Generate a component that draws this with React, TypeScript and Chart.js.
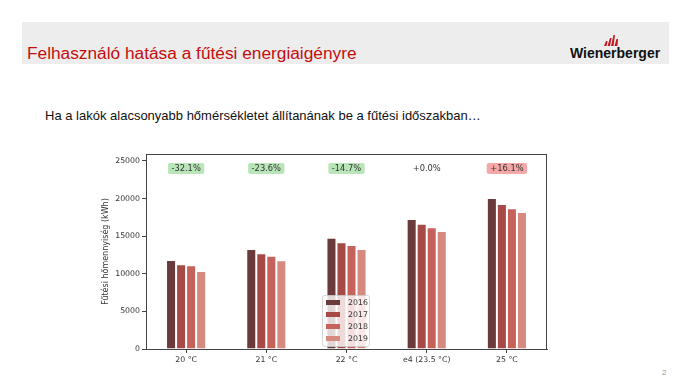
import React, { useEffect, useRef } from "react";
import { Chart, registerables } from "chart.js";

Chart.register(...registerables);

const categories = ["20 °C", "21 °C", "22 °C", "e4 (23.5 °C)", "25 °C"];
const years = ["2016", "2017", "2018", "2019"];
const values2016 = [11850, 13300, 14800, 17300, 20080];
const values2017 = [11260, 12720, 14180, 16670, 19280];
const values2018 = [11130, 12410, 13830, 16180, 18700];
const values2019 = [10370, 11790, 13300, 15690, 18220];
const changeLabels = ["-32.1%", "-23.6%", "-14.7%", "+0.0%", "+16.1%"];
const yTicks = [0, 5000, 10000, 15000, 20000, 25000];
const yMax = 25930;
const labelY = 24000;

const seriesValues = [values2016, values2017, values2018, values2019];
const seriesColors = ["#6b3b3b", "#a54a47", "#c5625c", "#d6897e"];

const FONT = "'DejaVu Sans', sans-serif";

const framePlugin = {
  id: "frame",
  afterDatasetsDraw(chart: any) {
    const { ctx, chartArea } = chart;
    ctx.save();
    ctx.strokeStyle = "#444";
    ctx.lineWidth = 1;
    ctx.strokeRect(
      Math.round(chartArea.left) + 0.5,
      Math.round(chartArea.top) + 0.5,
      Math.round(chartArea.right - chartArea.left) - 1,
      Math.round(chartArea.bottom - chartArea.top)
    );
    ctx.restore();
  },
};

const annotationPlugin = {
  id: "changeLabels",
  afterDatasetsDraw(chart: any) {
    const { ctx } = chart;
    const xs = chart.scales.x;
    const ys = chart.scales.y;
    ctx.save();
    ctx.font = `8.3px ${FONT}`;
    ctx.textAlign = "center";
    ctx.textBaseline = "middle";
    changeLabels.forEach((lab, i) => {
      const x = xs.getPixelForValue(i);
      const y = ys.getPixelForValue(labelY);
      const w = ctx.measureText(lab).width + 7;
      const h = 11;
      const n = parseFloat(lab);
      let bg: string | null = null;
      if (n < 0) bg = "#b9e6b9";
      else if (n > 0) bg = "#f6a8a8";
      if (bg) {
        ctx.fillStyle = bg;
        ctx.beginPath();
        (ctx as any).roundRect(x - w / 2, y - h / 2, w, h, 2);
        ctx.fill();
      }
      ctx.fillStyle = "#333";
      ctx.fillText(lab, x, y + 0.5);
    });
    ctx.restore();
  },
};

const legendPlugin = {
  id: "innerLegend",
  afterDraw(chart: any) {
    const { ctx } = chart;
    const x0 = 322;
    const y0 = 295;
    const w = 47;
    const h = 51;
    ctx.save();
    ctx.fillStyle = "rgba(255,255,255,0.8)";
    ctx.strokeStyle = "rgba(204,204,204,0.8)";
    ctx.lineWidth = 1;
    ctx.beginPath();
    (ctx as any).roundRect(x0 + 0.5, y0 + 0.5, w, h, 2);
    ctx.fill();
    ctx.stroke();
    ctx.font = `7.8px ${FONT}`;
    ctx.textBaseline = "middle";
    ctx.textAlign = "left";
    years.forEach((yr, i) => {
      const cy = y0 + 7.5 + i * 12;
      ctx.fillStyle = seriesColors[i];
      ctx.fillRect(x0 + 4, cy - 2.5, 14, 5);
      ctx.fillStyle = "#333";
      ctx.fillText(yr, x0 + 26, cy + 0.5);
    });
    ctx.restore();
  },
};

function ChartCanvas() {
  const ref = useRef<HTMLCanvasElement | null>(null);
  useEffect(() => {
    if (!ref.current) return;
    const chart = new Chart(ref.current, {
      type: "bar",
      data: {
        labels: categories,
        datasets: years.map((yr, i) => ({
          label: yr,
          data: seriesValues[i],
          backgroundColor: seriesColors[i],
          borderColor: "rgba(255,255,255,0.55)",
          borderWidth: 1,
          categoryPercentage: 0.5,
          barPercentage: 1,
        })),
      },
      options: {
        responsive: false,
        animation: false,
        events: [],
        layout: { padding: { left: 96, right: 143, top: 154, bottom: 0 } },
        plugins: {
          legend: { display: false },
          tooltip: { enabled: false },
        },
        scales: {
          x: {
            type: "category",
            offset: true,
            grid: {
              display: true,
              drawOnChartArea: false,
              drawTicks: true,
              tickLength: 4,
              color: "#444",
              offset: false,
            },
            border: { display: true, color: "#444", width: 1 },
            ticks: {
              font: { family: FONT, size: 7.8 },
              color: "#333",
              padding: 2,
              maxRotation: 0,
              autoSkip: false,
            },
            afterFit: (s: any) => {
              s.height = 39;
            },
          },
          y: {
            min: 0,
            max: yMax,
            grid: {
              display: true,
              drawOnChartArea: false,
              drawTicks: true,
              tickLength: 4,
              color: "#444",
            },
            border: { display: true, color: "#444", width: 1 },
            ticks: {
              font: { family: FONT, size: 7.8 },
              color: "#333",
              padding: 2,
              callback: (v: any) => String(v),
            },
            afterBuildTicks: (s: any) => {
              s.ticks = yTicks.map((v) => ({ value: v }));
            },
            title: {
              display: true,
              text: "Fűtési hőmennyiség (kWh)",
              font: { family: FONT, size: 8 },
              color: "#333",
              padding: { top: 5, bottom: 0 },
            },
            afterFit: (s: any) => {
              s.width = 50;
            },
          },
        },
      },
      plugins: [framePlugin, annotationPlugin, legendPlugin],
    } as any);
    return () => chart.destroy();
  }, []);
  return (
    <canvas
      ref={ref}
      width={690}
      height={388}
      style={{ position: "absolute", left: 0, top: 0, width: 690, height: 388 }}
    />
  );
}

export default function App() {
  return (
    <div
      style={{
        position: "fixed",
        left: 0,
        top: 0,
        width: 690,
        height: 388,
        background: "#fff",
        overflow: "hidden",
        fontFamily: "'Liberation Sans', Arial, sans-serif",
      }}
    >
      <div
        style={{
          position: "absolute",
          left: 22,
          top: 22,
          width: 647,
          height: 42,
          background: "#ededed",
        }}
      />
      <div
        style={{
          position: "absolute",
          left: 27,
          top: 43,
          fontSize: 17.3,
          lineHeight: "20px",
          color: "#c40d0d",
          whiteSpace: "nowrap",
        }}
      >
        Felhasználó hatása a fűtési energiaigényre
      </div>
      <svg
        style={{ position: "absolute", left: 602, top: 33 }}
        width={20}
        height={13}
        viewBox="0 0 20 13"
      >
        <polygon points="2,13 4,8 5.5,8 4.5,13" fill="#c8161d" />
        <polygon points="5.5,13 8,5 9.5,5 8,13" fill="#c8161d" />
        <polygon points="9,13 11.5,2 13,2 11.5,13" fill="#c8161d" />
        <polygon points="12.5,13 14.5,6 16,6 15.5,13" fill="#c8161d" />
      </svg>
      <div
        style={{
          position: "absolute",
          left: 570,
          top: 45,
          fontSize: 14,
          fontWeight: "bold",
          lineHeight: "16px",
          color: "#111",
          whiteSpace: "nowrap",
        }}
      >
        Wienerberger
      </div>
      <div
        style={{
          position: "absolute",
          left: 45,
          top: 108,
          fontSize: 13,
          lineHeight: "15px",
          color: "#111",
          whiteSpace: "nowrap",
        }}
      >
        Ha a lakók alacsonyabb hőmérsékletet állítanának be a fűtési időszakban…
      </div>
      <div
        style={{
          position: "absolute",
          left: 662,
          top: 368,
          fontSize: 8,
          lineHeight: "10px",
          color: "#999",
        }}
      >
        2
      </div>
      <ChartCanvas />
    </div>
  );
}
